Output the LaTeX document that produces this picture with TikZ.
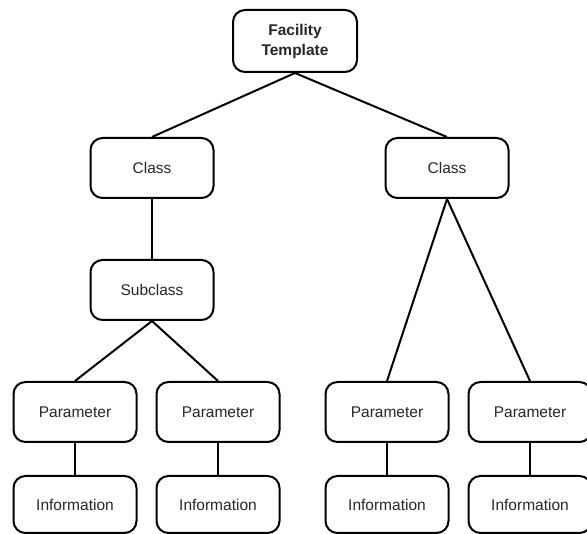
\documentclass[tikz,border=0pt]{standalone}
\usepackage{fontspec}
\setmainfont{Liberation Sans}
\begin{document}
\begin{tikzpicture}[x=1pt,y=-1pt,
  box/.style={draw=black, line width=2pt, rounded corners=12pt,
    minimum width=123pt, minimum height=60pt, inner sep=0pt,
    text=black!85, font=\fontsize{15.5}{20}\selectfont, align=center},
  link/.style={draw=black, line width=2pt}]
\useasboundingbox (0,0) rectangle (587,534);

% root
\node[box, minimum width=124pt, minimum height=62pt,
      font=\fontsize{15.5}{20}\selectfont\bfseries] (root) at (295,41) {Facility\\Template};

% classes
\node[box] (classL) at (152,168) {Class};
\node[box] (classR) at (447,168) {Class};
\node[box] (sub)    at (152,290) {Subclass};

% parameters
\node[box] (pL1) at (75,412)  {Parameter};
\node[box] (pL2) at (218,412) {Parameter};
\node[box] (pR1) at (387,412) {Parameter};
\node[box] (pR2) at (530,412) {Parameter};

% information
\node[box, minimum height=57pt] (iL1) at (75,504.5)  {Information};
\node[box, minimum height=57pt] (iL2) at (218,504.5) {Information};
\node[box, minimum height=57pt] (iR1) at (387,504.5) {Information};
\node[box, minimum height=57pt] (iR2) at (530,504.5) {Information};

% connectors
\draw[link] (root.south) -- (classL.north);
\draw[link] (root.south) -- (classR.north);
\draw[link] (classL.south) -- (sub.north);
\draw[link] (sub.south) -- (pL1.north);
\draw[link] (sub.south) -- (pL2.north);
\draw[link] (classR.south) -- (pR1.north);
\draw[link] (classR.south) -- (pR2.north);
\draw[link] (pL1.south) -- (iL1.north);
\draw[link] (pL2.south) -- (iL2.north);
\draw[link] (pR1.south) -- (iR1.north);
\draw[link] (pR2.south) -- (iR2.north);
\end{tikzpicture}
\end{document}
